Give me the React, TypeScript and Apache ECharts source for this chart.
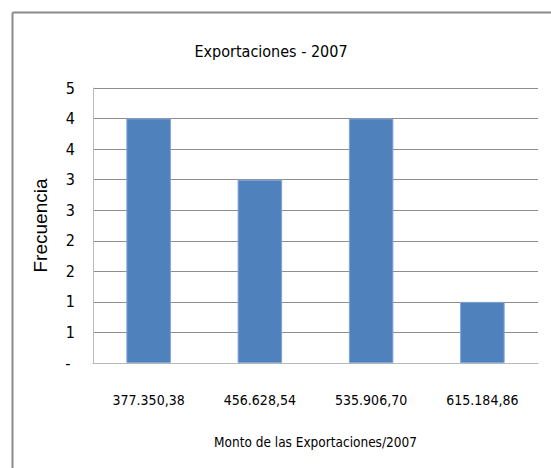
import React, { useEffect, useRef } from "react";
import * as echarts from "echarts";

const categories = ["377.350,38", "456.628,54", "535.906,70", "615.184,86"];
const frequencies = [4, 3, 4, 1];
const yTickLabels = ["-", "1", "1", "2", "2", "3", "3", "4", "4", "5"];

const titleText = "Exportaciones - 2007";
const xAxisName = "Monto de las Exportaciones/2007";
const yAxisName = "Frecuencia";

const FONT = "'DejaVu Sans Condensed', sans-serif";

export default function App() {
  const ref = useRef<HTMLDivElement>(null);
  useEffect(() => {
    if (!ref.current) return;
    const chart = echarts.init(ref.current, null, { renderer: "svg" });
    chart.setOption({
      animation: false,
      backgroundColor: "#ffffff",
      title: {
        text: titleText,
        left: 266,
        top: 38,
        textAlign: "center",
        textStyle: { fontFamily: FONT, fontSize: 16, fontWeight: "normal", color: "#000" },
      },
      graphic: [
        {
          type: "line",
          shape: { x1: 12.5, y1: 12.5, x2: 551, y2: 12.5 },
          style: { stroke: "#8a8a8a", lineWidth: 2 },
        },
        {
          type: "line",
          shape: { x1: 12.5, y1: 12.5, x2: 12.5, y2: 468 },
          style: { stroke: "#8a8a8a", lineWidth: 2 },
        },
      ],
      grid: { left: 93, right: 13, top: 88, bottom: 105 },
      xAxis: {
        type: "category",
        data: categories,
        name: xAxisName,
        nameLocation: "middle",
        nameGap: 72,
        nameTextStyle: { fontFamily: FONT, fontSize: 13.5, color: "#000" },
        axisLine: { show: true, lineStyle: { color: "#b8b8b8", width: 1 } },
        axisTick: { show: false },
        axisLabel: { fontFamily: FONT, fontSize: 14, color: "#000", margin: 30, interval: 0 },
      },
      yAxis: {
        type: "value",
        min: 0,
        max: 4.5,
        interval: 0.5,
        name: yAxisName,
        nameLocation: "middle",
        nameGap: 43,
        nameTextStyle: { fontFamily: "'Liberation Sans', sans-serif", fontSize: 19, color: "#000" },
        axisLine: { show: true, lineStyle: { color: "#b8b8b8", width: 1 } },
        axisTick: { show: false },
        axisLabel: {
          fontFamily: FONT,
          fontSize: 16,
          color: "#000",
          margin: 18,
          formatter: (v: number) => {
            const i = Math.round(v / 0.5);
            return i === 0 ? yTickLabels[0] + " " : yTickLabels[i];
          },
        },
        splitLine: { show: true, lineStyle: { color: "#8e8e8e", width: 1 } },
      },
      series: [
        {
          type: "bar",
          data: frequencies,
          barWidth: "40%",
          itemStyle: { color: "#4f81bd", borderColor: "#7fa3d6", borderWidth: 1 },
        },
      ],
    });
    return () => chart.dispose();
  }, []);
  return (
    <div
      ref={ref}
      style={{ position: "fixed", left: 0, top: 0, width: 551, height: 468 }}
    />
  );
}
